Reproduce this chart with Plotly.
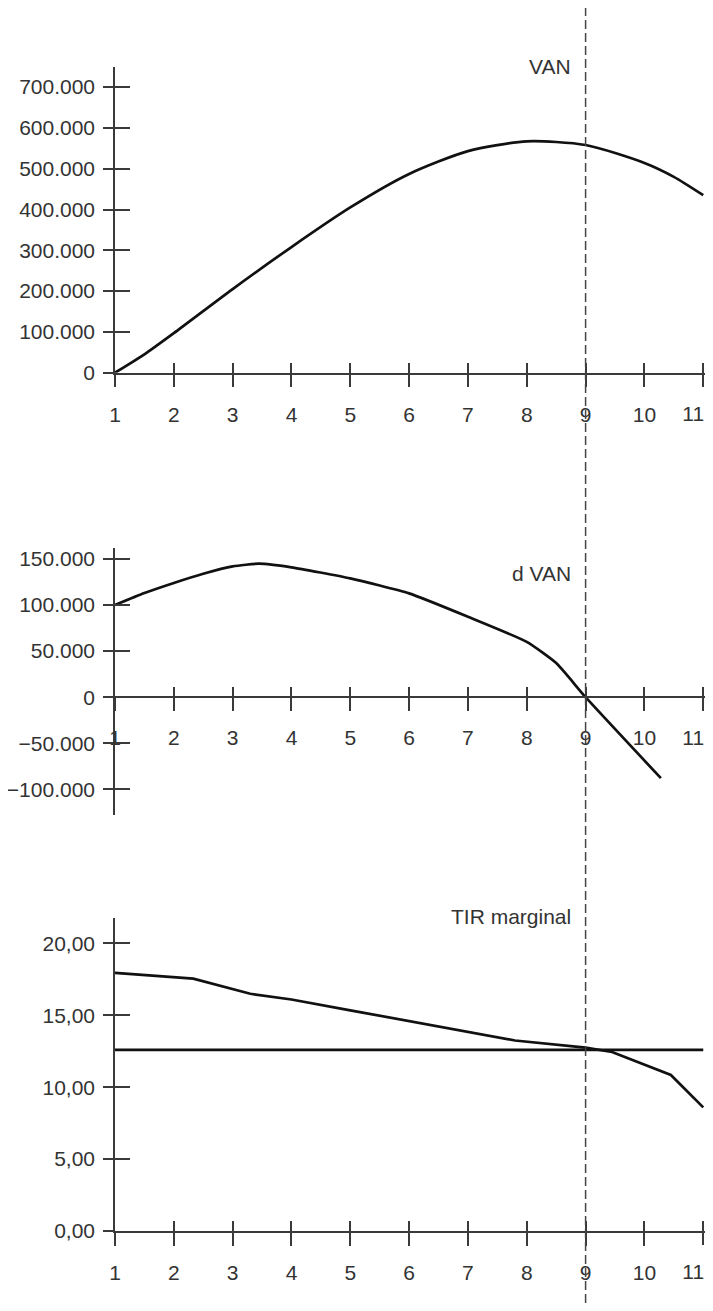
import plotly.graph_objects as go

# ---------------- data ----------------
years = list(range(1, 12))

van_x = [1, 1.5, 2, 3, 4, 5, 6, 7, 8, 9, 10, 10.5, 11]
van_y = [0, 45000, 97000, 205000, 308000, 405000, 487000, 543000, 567000, 558000, 514000, 480000, 435000]

dvan_x = [1, 1.5, 2, 2.5, 3, 3.45, 4, 5, 6, 7, 8, 8.5, 9, 10.28]
dvan_y = [100000, 113000, 124000, 134000, 142000, 145000, 141000, 129000, 112700, 87300, 60000, 37000, 0, -88000]

tir_x = [1, 2.33, 3.3, 4, 5, 6, 7, 7.8, 9, 9.45, 10.45, 11]
tir_y = [17.95, 17.55, 16.5, 16.1, 15.35, 14.6, 13.85, 13.25, 12.75, 12.45, 10.85, 8.6]

tasa_x = [1, 11]
tasa_y = [12.6, 12.6]

van_ticks = [0, 100000, 200000, 300000, 400000, 500000, 600000, 700000]
dvan_ticks = [-100000, -50000, 0, 50000, 100000, 150000]
tir_ticks = [0, 5, 10, 15, 20]

corte_x = 9
labels = ["VAN", "d VAN", "TIR marginal"]

# ---------------- style ----------------
FONT = "Liberation Sans, Arial, sans-serif"
FS = 21
TXT = "#333333"
AX = "#3a3a3a"
W, H = 697, 1295          # page body adds an 8px margin around the figure
OFF = 8

def pf(py_screen):
    return (H - (py_screen - OFF)) / H

dom1 = [pf(372.7), pf(66.7)]
dom2 = [pf(815), pf(548)]
dom3 = [pf(1231), pf(918.3)]

r1 = [0, 750000]
r2 = [-128000, 162000]
r3 = [0, 21.75]
xr = [1, 11.03]

fig = go.Figure()
line = dict(color="#111111", width=2.7)
fig.add_trace(go.Scatter(x=van_x, y=van_y, mode="lines", line=dict(shape="spline", smoothing=0.7, **line),
                         xaxis="x", yaxis="y", showlegend=False, hoverinfo="skip"))
fig.add_trace(go.Scatter(x=dvan_x, y=dvan_y, mode="lines", line=dict(shape="spline", smoothing=0.5, **line),
                         xaxis="x2", yaxis="y2", showlegend=False, hoverinfo="skip"))
fig.add_trace(go.Scatter(x=tir_x, y=tir_y, mode="lines", line=line,
                         xaxis="x3", yaxis="y3", showlegend=False, hoverinfo="skip"))
fig.add_trace(go.Scatter(x=tasa_x, y=tasa_y, mode="lines", line=line,
                         xaxis="x3", yaxis="y3", showlegend=False, hoverinfo="skip"))

# invisible helper traces so the overlay tick axes get drawn
helpers = [("x4", "y", van_ticks), ("x5", "y2", dvan_ticks), ("x6", "y3", tir_ticks),
           ("x", "y4", van_ticks), ("x2", "y5", dvan_ticks), ("x3", "y6", tir_ticks),
           ("x7", "y", van_ticks), ("x8", "y2", dvan_ticks), ("x9", "y3", tir_ticks)]
for xa, ya, yv in helpers:
    fig.add_trace(go.Scatter(x=[years[0]], y=[yv[0]], mode="lines", line=dict(width=0),
                             xaxis=xa, yaxis=ya, showlegend=False, hoverinfo="skip"))

common = dict(showgrid=False, zeroline=False, showline=True, linecolor=AX, linewidth=1.5,
              tickcolor=AX, tickwidth=1.5, tickfont=dict(family=FONT, size=FS, color=TXT),
              automargin=False)

# main x axes carry years 1..10; the last year gets its own overlay axis (label nudged inside page)
xcommon = dict(common, range=xr, tickvals=years[:-1], ticks="outside", ticklen=13,
               ticklabelstandoff=9)
ycommon = dict(common, ticks="outside", ticklen=10, ticklabelstandoff=4)

pos2 = dom2[0] + (0 - r2[0]) / (r2[1] - r2[0]) * (dom2[1] - dom2[0])

ml = 115 - OFF
plot_w = 588 * (xr[1] - xr[0]) / 10.0
mr = W - ml - plot_w

layout = dict(
    width=W, height=H,
    margin=dict(l=ml, r=mr, t=0, b=0, pad=0),
    paper_bgcolor="white", plot_bgcolor="white",
    separators=",.",
    showlegend=False,
    xaxis=dict(xcommon, domain=[0, 1], anchor="y"),
    yaxis=dict(ycommon, domain=dom1, range=r1, anchor="x", tickvals=van_ticks, tickformat=",.0f"),
    xaxis2=dict(xcommon, domain=[0, 1], anchor="free", position=pos2),
    yaxis2=dict(ycommon, domain=dom2, range=r2, anchor="x2", tickvals=dvan_ticks, tickformat=",.0f"),
    xaxis3=dict(xcommon, domain=[0, 1], anchor="y3"),
    yaxis3=dict(ycommon, domain=dom3, range=r3, anchor="x3", tickvals=tir_ticks, tickformat=".2f"),
)

# overlay axes that draw the inner half of the crossing tick marks
inner_x = dict(showgrid=False, zeroline=False, showline=False, showticklabels=False,
               ticks="inside", ticklen=10, tickcolor=AX, tickwidth=1.5, range=xr, tickvals=years)
inner_y = dict(showgrid=False, zeroline=False, showline=False, showticklabels=False,
               ticks="inside", ticklen=15, tickcolor=AX, tickwidth=1.5)
layout["xaxis4"] = dict(inner_x, overlaying="x", anchor="y")
layout["xaxis5"] = dict(inner_x, overlaying="x2", anchor="free", position=pos2)
layout["xaxis6"] = dict(inner_x, overlaying="x3", anchor="y3")
layout["yaxis4"] = dict(inner_y, overlaying="y", anchor="x", range=r1, tickvals=van_ticks)
layout["yaxis5"] = dict(inner_y, overlaying="y2", anchor="x2", range=r2, tickvals=dvan_ticks)
layout["yaxis6"] = dict(inner_y, overlaying="y3", anchor="x3", range=r3, tickvals=tir_ticks)

# overlay axes for the last year tick + label
last_x = dict(common, showline=False, range=xr, tickvals=years[-1:], ticks="outside", ticklen=13,
              ticklabelstandoff=9, ticklabelshift=-10, ticklabeloverflow="allow")
layout["xaxis7"] = dict(last_x, overlaying="x", anchor="y")
layout["xaxis8"] = dict(last_x, overlaying="x2", anchor="free", position=pos2)
layout["xaxis9"] = dict(last_x, overlaying="x3", anchor="y3")

fig.update_layout(**layout)

# dashed vertical line through the cut-off year
fig.add_shape(type="line", xref="x", yref="paper", x0=corte_x, x1=corte_x, y0=0, y1=pf(7),
              line=dict(color="#444444", width=1.5, dash="9px,4px"))

ann_font = dict(family=FONT, size=FS, color=TXT)
fig.add_annotation(text=labels[0], xref="x", yref="paper", x=corte_x, y=pf(66.7), xanchor="right",
                   yanchor="middle", xshift=-13, showarrow=False, font=ann_font)
fig.add_annotation(text=labels[1], xref="x2", yref="paper", x=corte_x, y=pf(573), xanchor="right",
                   yanchor="middle", xshift=-13, showarrow=False, font=ann_font)
fig.add_annotation(text=labels[2], xref="x3", yref="paper", x=corte_x, y=pf(916), xanchor="right",
                   yanchor="middle", xshift=-13, showarrow=False, font=ann_font)

fig.write_html("out.html")
